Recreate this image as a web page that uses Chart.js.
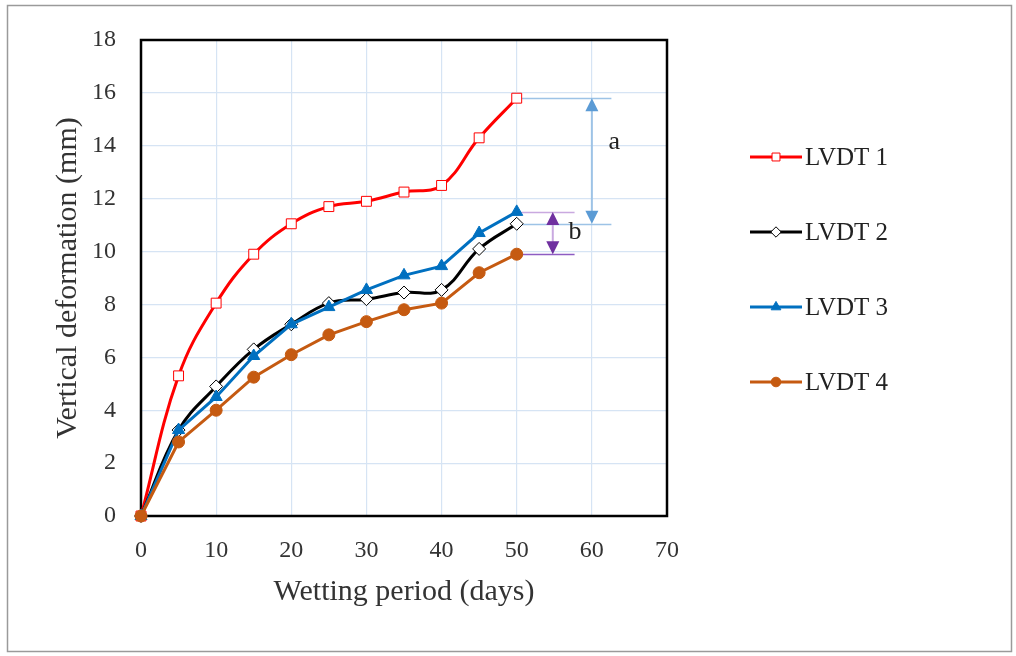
<!DOCTYPE html>
<html>
<head>
<meta charset="utf-8">
<script src="https://cdn.jsdelivr.net/npm/chart.js@4/dist/chart.umd.min.js"></script>
<style>
    html, body { margin: 0; padding: 0; background: #fff; }
    #wrap { width: 1016px; height: 656px; position: relative; }
</style>
</head>
<body>
<div id="wrap"><canvas id="chart"></canvas></div>
<script>
(function () {
    'use strict';

    var days = [0, 5, 10, 15, 20, 25, 30, 35, 40, 45, 50];
    var lvdt1 = [0, 5.3, 8.05, 9.9, 11.05, 11.7, 11.9, 12.25, 12.5, 14.3, 15.8];
    var lvdt2 = [0, 3.25, 4.9, 6.3, 7.25, 8.05, 8.2, 8.45, 8.55, 10.1, 11.05];
    var lvdt3 = [0, 3.25, 4.5, 6.05, 7.25, 7.9, 8.55, 9.1, 9.45, 10.7, 11.5];
    var lvdt4 = [0, 2.8, 4.0, 5.25, 6.1, 6.85, 7.35, 7.8, 8.05, 9.2, 9.9];
    var seriesNames = ['LVDT 1', 'LVDT 2', 'LVDT 3', 'LVDT 4'];

    var xTicks = [0, 10, 20, 30, 40, 50, 60, 70];
    var yTicks = [0, 2, 4, 6, 8, 10, 12, 14, 16, 18];

    // difference markers "a" and "b" (data units)
    var guideLines = [
        { y: 15.8, from: 50, to: 62.6, color: '#9dc3e6' },
        { y: 11.05, from: 50, to: 62.6, color: '#9dc3e6' },
        { y: 11.5, from: 50, to: 57.7, color: '#c9a9e0' },
        { y: 9.9, from: 50, to: 57.7, color: '#8e5cc2' }
    ];
    var arrows = [
        { x: 60, top: 15.8, bottom: 11.05, shaft: '#9dc3e6', head: '#5b9bd5', label: 'a', lx: 62.2, ly: 14.15 },
        { x: 54.8, top: 11.5, bottom: 9.9, shaft: '#c9a9e0', head: '#7030a0', label: 'b', lx: 56.9, ly: 10.75 }
    ];

    var serif = '"Liberation Serif", "Times New Roman", serif';

    function toPoints(ys) {
        return days.map(function (d, i) { return { x: d, y: ys[i] }; });
    }

    var styles = [
        { color: '#ff0000', fill: '#ffffff', shape: 'rect', radius: 7, bw: 1, tension: 0.4 },
        { color: '#000000', fill: '#ffffff', shape: 'rectRot', radius: 6.5, bw: 1, tension: 0.4 },
        { color: '#0070c0', fill: '#0070c0', shape: 'triangle', radius: 7, bw: 1, tension: 0 },
        { color: '#c55a11', fill: '#c55a11', shape: 'circle', radius: 6, bw: 1, tension: 0 }
    ];
    var values = [lvdt1, lvdt2, lvdt3, lvdt4];

    var datasets = values.map(function (v, i) {
        var s = styles[i];
        return {
            label: seriesNames[i],
            data: toPoints(v),
            borderColor: s.color,
            backgroundColor: s.fill,
            borderWidth: 3,
            tension: s.tension,
            pointStyle: s.shape,
            pointRadius: s.radius,
            pointBorderColor: s.color,
            pointBackgroundColor: s.fill,
            pointBorderWidth: s.bw,
            clip: false,
            order: 4 - i
        };
    });

    function drawMarker(ctx, s, x, y) {
        var r = s.radius * 0.8;
        var h = r * Math.SQRT1_2;
        ctx.save();
        ctx.fillStyle = s.fill;
        ctx.strokeStyle = s.color;
        ctx.lineWidth = s.bw;
        ctx.beginPath();
        if (s.shape === 'rect') {
            ctx.rect(x - h, y - h, h * 2, h * 2);
        } else if (s.shape === 'rectRot') {
            ctx.moveTo(x, y - r); ctx.lineTo(x + r, y); ctx.lineTo(x, y + r); ctx.lineTo(x - r, y); ctx.closePath();
        } else if (s.shape === 'triangle') {
            ctx.moveTo(x, y - r); ctx.lineTo(x + r * 0.87, y + r * 0.5); ctx.lineTo(x - r * 0.87, y + r * 0.5); ctx.closePath();
        } else {
            ctx.arc(x, y, r, 0, Math.PI * 2);
        }
        ctx.fill();
        ctx.stroke();
        ctx.restore();
    }

    var framePlugin = {
        id: 'frame',
        beforeDraw: function (chart) {
            var ctx = chart.ctx;
            ctx.save();
            ctx.strokeStyle = '#9a9a9a';
            ctx.lineWidth = 1.5;
            ctx.strokeRect(7.5, 5.5, 1004, 646);
            ctx.restore();
        },
        beforeDatasetsDraw: function (chart) {
            var ctx = chart.ctx;
            var xs = chart.scales.x, ys = chart.scales.y;
            var a = chart.chartArea;

            ctx.save();
            guideLines.forEach(function (g) {
                var py = Math.round(ys.getPixelForValue(g.y)) + 0.5;
                ctx.strokeStyle = g.color;
                ctx.lineWidth = 1.5;
                ctx.beginPath();
                ctx.moveTo(xs.getPixelForValue(g.from), py);
                ctx.lineTo(xs.getPixelForValue(g.to), py);
                ctx.stroke();
            });
            arrows.forEach(function (ar) {
                var px = xs.getPixelForValue(ar.x);
                var t = ys.getPixelForValue(ar.top), b = ys.getPixelForValue(ar.bottom);
                ctx.strokeStyle = ar.shaft;
                ctx.lineWidth = 2;
                ctx.beginPath();
                ctx.moveTo(px, t + 10);
                ctx.lineTo(px, b - 10);
                ctx.stroke();
                ctx.fillStyle = ar.head;
                ctx.beginPath();
                ctx.moveTo(px, t); ctx.lineTo(px + 6.5, t + 13); ctx.lineTo(px - 6.5, t + 13); ctx.closePath();
                ctx.fill();
                ctx.beginPath();
                ctx.moveTo(px, b); ctx.lineTo(px + 6.5, b - 13); ctx.lineTo(px - 6.5, b - 13); ctx.closePath();
                ctx.fill();
                ctx.fillStyle = '#222';
                ctx.font = '26px ' + serif;
                ctx.textAlign = 'left';
                ctx.textBaseline = 'middle';
                ctx.fillText(ar.label, xs.getPixelForValue(ar.lx), ys.getPixelForValue(ar.ly));
            });

            ctx.strokeStyle = '#000';
            ctx.lineWidth = 2.5;
            ctx.strokeRect(a.left, a.top, a.right - a.left, a.bottom - a.top);
            ctx.restore();
        },
        afterDraw: function (chart) {
            var ctx = chart.ctx;
            var legendX = 750, legendY = 157, step = 75;
            ctx.save();
            styles.forEach(function (s, i) {
                var y = legendY + i * step;
                ctx.strokeStyle = s.color;
                ctx.lineWidth = 3;
                ctx.beginPath();
                ctx.moveTo(legendX, y);
                ctx.lineTo(legendX + 52, y);
                ctx.stroke();
                drawMarker(ctx, s, legendX + 26, y);
                ctx.fillStyle = '#222';
                ctx.font = '25px ' + serif;
                ctx.textAlign = 'left';
                ctx.textBaseline = 'middle';
                ctx.fillText(seriesNames[i], legendX + 55, y + 1);
            });
            ctx.restore();
        }
    };

    new Chart(document.getElementById('chart'), {
        type: 'line',
        data: { datasets: datasets },
        options: {
            responsive: true, maintainAspectRatio: false,
            animation: false,
            layout: { padding: { left: 0, top: 40, right: 349, bottom: 0 } },
            plugins: { legend: { display: false }, tooltip: { enabled: false } },
            scales: {
                x: {
                    type: 'linear', min: 0, max: 70,
                    afterBuildTicks: function (scale) { scale.ticks = xTicks.map(function (v) { return { value: v }; }); },
                    afterFit: function (scale) { scale.height = 140; },
                    grid: { color: '#d6e4f4', lineWidth: 1.2, drawTicks: false },
                    border: { display: false },
                    ticks: { color: '#333', padding: 20, font: { family: serif, size: 24 } },
                    title: { display: true, text: 'Wetting period (days)', color: '#333', font: { family: serif, size: 30 }, padding: { top: 0, bottom: 46 } }
                },
                y: {
                    type: 'linear', min: 0, max: 18,
                    afterBuildTicks: function (scale) { scale.ticks = yTicks.map(function (v) { return { value: v }; }); },
                    afterFit: function (scale) { scale.width = 141; },
                    grid: { color: '#d6e4f4', lineWidth: 1.2, drawTicks: false },
                    border: { display: false },
                    ticks: { color: '#333', padding: 25, font: { family: serif, size: 24 } },
                    title: { display: true, text: 'Vertical deformation (mm)', color: '#333', font: { family: serif, size: 30 }, padding: { top: 50, bottom: 0 } }
                }
            }
        },
        plugins: [framePlugin]
    });
})();
</script>
</body>
</html>
